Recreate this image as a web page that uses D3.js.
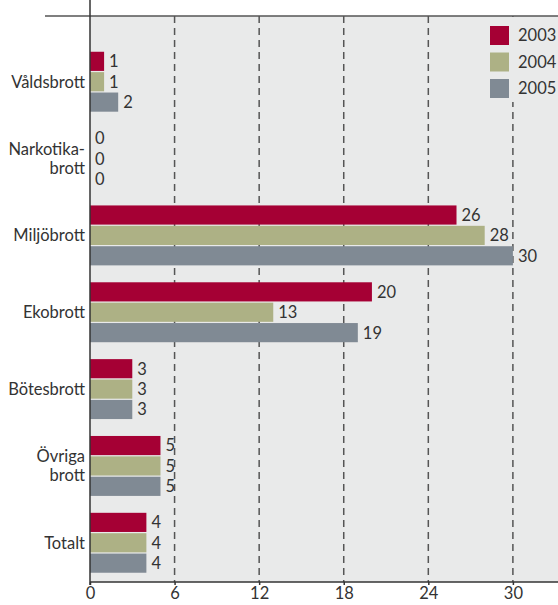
<!DOCTYPE html>
<html>
<head>
<meta charset="utf-8">
<script src="https://cdn.jsdelivr.net/npm/d3@7"></script>
<style>
  body { margin: 0; background: #fff; }
  svg { display: block; font-family: Lato, "Open Sans", sans-serif; }
</style>
</head>
<body>
<div id="chart"></div>
<script>
const categories = [["Våldsbrott"], ["Narkotika-", "brott"], ["Miljöbrott"], ["Ekobrott"], ["Bötesbrott"], ["Övriga", "brott"], ["Totalt"]];
const years = ["2003", "2004", "2005"];
const v2003 = [1, 0, 26, 20, 3, 5, 4];
const v2004 = [1, 0, 28, 13, 3, 5, 4];
const v2005 = [2, 0, 30, 19, 3, 5, 4];
const xTicks = [0, 6, 12, 18, 24, 30];
const colors = ["#a50034", "#adb185", "#808a94"];

const series = [v2003, v2004, v2005];
const width = 558, height = 605;
const mLeft = 90, mRight = 558, mTop = 16, mBottom = 582;
const fs = 16.5;

const svg = d3.select("#chart").append("svg")
    .attr("width", width)
    .attr("height", height);

const x = d3.scaleLinear().domain([0, 33.2]).range([mLeft, mRight]);
const y = d3.scaleBand()
    .domain(d3.range(categories.length))
    .range([43.3, 581.2])
    .paddingInner(0.22)
    .paddingOuter(0.11);
const yInner = d3.scaleBand().domain(d3.range(years.length)).range([0, y.bandwidth()]).paddingInner(0.06);

// plot background
svg.append("rect")
    .attr("x", mLeft).attr("y", mTop)
    .attr("width", mRight - mLeft).attr("height", mBottom - mTop)
    .attr("fill", "#e9eaea");

// dashed grid
svg.append("g")
  .selectAll("line")
  .data(xTicks.filter(d => d > 0))
  .enter().append("line")
    .attr("x1", d => x(d)).attr("x2", d => x(d))
    .attr("y1", mTop).attr("y2", mBottom)
    .attr("stroke", "#555")
    .attr("stroke-width", 1.5)
    .attr("stroke-dasharray", "7,5");

// bars
const groups = svg.append("g")
  .selectAll("g")
  .data(categories)
  .enter().append("g")
    .attr("transform", (d, i) => "translate(0," + y(i) + ")");

groups.selectAll("rect")
  .data((d, i) => series.map((s, j) => ({v: s[i], j})))
  .enter().append("rect")
    .attr("x", x(0))
    .attr("y", d => yInner(d.j))
    .attr("width", d => x(d.v) - x(0))
    .attr("height", yInner.bandwidth())
    .attr("fill", d => colors[d.j]);

groups.selectAll("text.val")
  .data((d, i) => series.map((s, j) => ({v: s[i], j})))
  .enter().append("text")
    .attr("class", "val")
    .attr("x", d => x(d.v) + 5)
    .attr("y", d => yInner(d.j) + yInner.bandwidth() / 2)
    .attr("dy", "0.36em")
    .attr("font-size", fs)
    .attr("fill", "#333")
    .text(d => d.v);

// category labels
groups.append("text")
    .attr("x", mLeft - 5)
    .attr("y", y.bandwidth() / 2)
    .attr("text-anchor", "end")
    .attr("font-size", fs)
    .attr("fill", "#333")
  .selectAll("tspan")
  .data(d => d.map((t, k) => ({t, k, n: d.length})))
  .enter().append("tspan")
    .attr("x", mLeft - 5)
    .attr("dy", d => d.k === 0 ? (0.36 - (d.n - 1) * 0.58) + "em" : "1.16em")
    .text(d => d.t);

// legend box
svg.append("rect")
    .attr("x", 480).attr("y", mTop + 1)
    .attr("width", mRight - 480).attr("height", 85)
    .attr("fill", "#e9eaea");

const legend = svg.append("g")
  .selectAll("g")
  .data(years)
  .enter().append("g")
    .attr("transform", (d, i) => "translate(490," + (26 + i * 26.5) + ")");
legend.append("rect")
    .attr("width", 19).attr("height", 19)
    .attr("fill", (d, i) => colors[i]);
legend.append("text")
    .attr("x", 28).attr("y", 9.5)
    .attr("dy", "0.36em")
    .attr("font-size", fs)
    .attr("fill", "#333")
    .text(d => d);

// axes lines
svg.append("line")
    .attr("x1", 45).attr("x2", mRight)
    .attr("y1", mTop).attr("y2", mTop)
    .attr("stroke", "#555").attr("stroke-width", 1.5);
svg.append("line")
    .attr("x1", mLeft).attr("x2", mLeft)
    .attr("y1", 0).attr("y2", mBottom + 3)
    .attr("stroke", "#333").attr("stroke-width", 1.5);

const xAxis = svg.append("g")
    .attr("transform", "translate(0," + mBottom + ")")
    .call(d3.axisBottom(x).tickValues(xTicks).tickSize(3).tickPadding(9));
xAxis.select(".domain").attr("stroke", "#333").attr("stroke-width", 1.5)
    .attr("d", "M" + mLeft + ",0H" + mRight);
xAxis.selectAll(".tick line").attr("stroke", "#333").attr("stroke-width", 1.5);
xAxis.selectAll(".tick text")
    .attr("font-size", fs)
    .attr("font-family", "Lato, 'Open Sans', sans-serif")
    .attr("fill", "#333")
    .attr("dy", "0.3em");
</script>
</body>
</html>
